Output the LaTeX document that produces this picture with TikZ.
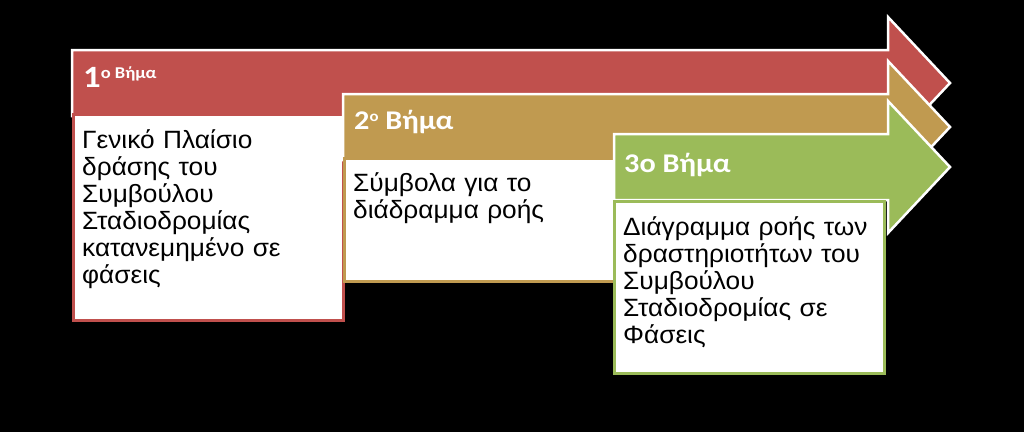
\documentclass[tikz,border=0pt]{standalone}
\usepackage{fontspec}
\setmainfont{Liberation Sans}[FakeStretch=1.05]
\newfontfamily\headfont{Carlito}[FakeStretch=1.12]
\definecolor{stepred}{HTML}{C0504D}
\definecolor{steptan}{HTML}{C09A50}
\definecolor{stepgreen}{HTML}{9BBB59}
\begin{document}
\begin{tikzpicture}[x=1pt,y=-1pt,
  arrowshape/.style={draw=white,line width=2.5pt,line join=miter},
  textbox/.style={fill=white,line width=3pt},
  stepname/.style={anchor=base west,inner sep=0pt,text=white,font=\headfont\bfseries\fontsize{27}{27}\selectfont},
  steptext/.style={anchor=north west,inner sep=0pt,text width=262pt,align=left,font=\fontsize{25}{27}\selectfont}]
\fill[black] (0,0) rectangle (1024,432);
% step 1
\filldraw[arrowshape,fill=stepred] (72,50) -- (888,50) -- (888,17) -- (950,83) -- (888,149) -- (888,116) -- (72,116) -- cycle;
\filldraw[textbox,draw=stepred] (73.5,114.5) rectangle (343.5,320.5);
\node[stepname] (s1) at (83,87) {{\fontsize{31}{31}\selectfont 1}\raisebox{9pt}{\fontsize{16.5}{16.5}\selectfont ο Βήμα}};
\node[steptext] (t1) at (82,129) {Γενικό Πλαίσιο\\ δράσης του\\ Συμβούλου\\ Σταδιοδρομίας\\ κατανεμημένο σε\\ φάσεις};
% step 2
\filldraw[arrowshape,fill=steptan] (343,94) -- (888,94) -- (888,61) -- (950,127) -- (888,193) -- (888,160) -- (343,160) -- cycle;
\filldraw[textbox,draw=steptan] (344.5,158.5) rectangle (614.5,281.5);
\node[stepname] (s2) at (354,129) {2\raisebox{8pt}{\fontsize{15}{15}\selectfont ο} Βήμα};
\node[steptext] (t2) at (353,172) {Σύμβολα για το\\ διάδραμμα ροής};
% step 3
\filldraw[arrowshape,fill=stepgreen] (614,134) -- (888,134) -- (888,101) -- (950,167) -- (888,233) -- (888,200) -- (614,200) -- cycle;
\filldraw[textbox,draw=stepgreen] (614.5,201.5) rectangle (884.5,373.5);
\node[stepname] (s3) at (624,172) {3ο Βήμα};
\node[steptext] (t3) at (623,216) {Διάγραμμα ροής των\\ δραστηριοτήτων του\\ Συμβούλου\\ Σταδιοδρομίας σε\\ Φάσεις};
\end{tikzpicture}
\end{document}
